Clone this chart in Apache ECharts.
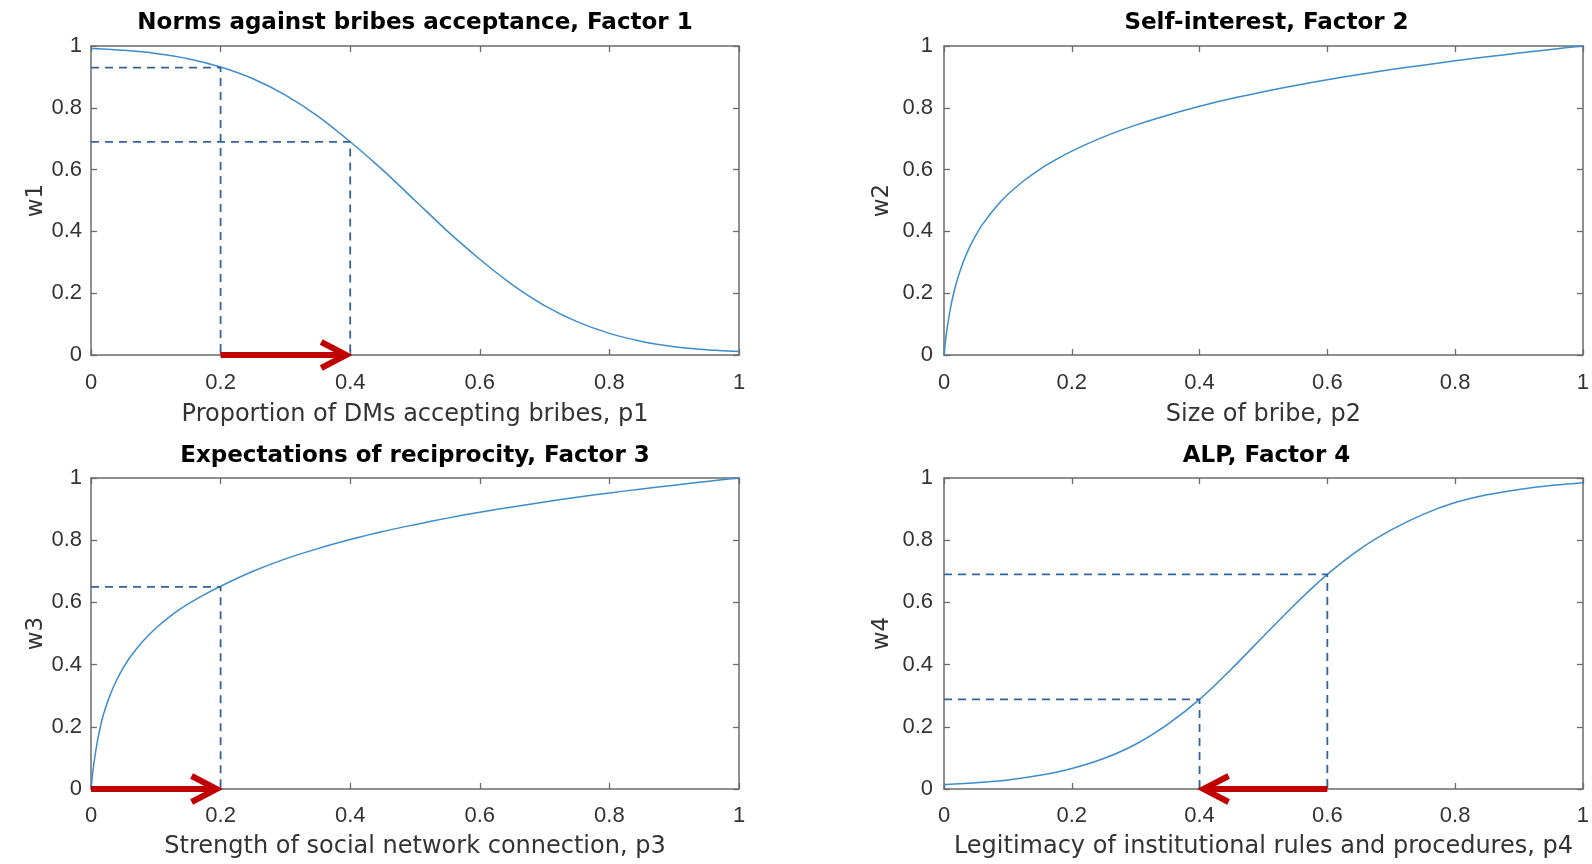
<!DOCTYPE html>
<html>
<head>
<meta charset="utf-8">
<script src="https://cdn.jsdelivr.net/npm/echarts@6/dist/echarts.min.js"></script>
<style>
html,body{margin:0;padding:0;background:#fff;}
#chart{width:1592px;height:864px;}
</style>
</head>
<body>
<div id="chart"></div>
<script>
// ---------- data ----------
const titles = [
  'Norms against bribes acceptance, Factor 1',
  'Self-interest, Factor 2',
  'Expectations of reciprocity, Factor 3',
  'ALP, Factor 4'
];
const xNames = [
  'Proportion of DMs accepting bribes, p1',
  'Size of bribe, p2',
  'Strength of social network connection, p3',
  'Legitimacy of institutional rules and procedures, p4'
];
const yNames = ['w1', 'w2', 'w3', 'w4'];

const p1 = [0,0.05,0.1,0.15,0.2,0.25,0.3,0.35,0.4,0.45,0.5,0.55,0.6,0.65,0.7,0.75,0.8,0.85,0.9,0.95,1];
const w1 = [0.992,0.986,0.976,0.959,0.932,0.894,0.841,0.773,0.69,0.599,0.5,0.401,0.31,0.228,0.16,0.108,0.07,0.044,0.027,0.017,0.011];

const p2 = [0,0.0025,0.005,0.01,0.015,0.02,0.03,0.04,0.05,0.06,0.08,0.1,0.125,0.15,0.175,0.2,0.25,0.3,0.35,0.4,0.45,0.5,0.55,0.6,0.65,0.7,0.75,0.8,0.85,0.9,0.95,1];
const w2 = [0,0.048,0.088,0.15,0.199,0.238,0.3,0.349,0.388,0.422,0.476,0.52,0.564,0.601,0.632,0.66,0.706,0.744,0.776,0.805,0.83,0.852,0.872,0.891,0.908,0.924,0.938,0.952,0.965,0.977,0.989,1];

const p3 = [0,0.0025,0.005,0.01,0.015,0.02,0.03,0.04,0.05,0.06,0.08,0.1,0.125,0.15,0.175,0.2,0.25,0.3,0.35,0.4,0.45,0.5,0.55,0.6,0.65,0.7,0.75,0.8,0.85,0.9,0.95,1];
const w3 = [0,0.05,0.09,0.155,0.205,0.245,0.305,0.352,0.39,0.423,0.475,0.517,0.56,0.595,0.625,0.652,0.7,0.74,0.773,0.802,0.828,0.85,0.871,0.89,0.907,0.923,0.938,0.952,0.965,0.977,0.989,1];

const p4 = [0,0.05,0.1,0.15,0.2,0.25,0.3,0.35,0.4,0.45,0.5,0.55,0.6,0.65,0.7,0.75,0.8,0.85,0.9,0.95,1];
const w4 = [0.014,0.02,0.029,0.044,0.066,0.098,0.144,0.208,0.288,0.386,0.491,0.595,0.69,0.77,0.833,0.883,0.921,0.946,0.963,0.976,0.985];

// dashed guide lines (polylines through data points)
const guides1 = [[[0,0.93],[0.2,0.93],[0.2,0]], [[0,0.69],[0.4,0.69],[0.4,0]]];
const guides2 = [];
const guides3 = [[[0,0.65],[0.2,0.65],[0.2,0]]];
const guides4 = [[[0,0.288],[0.4,0.288],[0.4,0]], [[0,0.69],[0.6,0.69],[0.6,0]]];

// red arrows: [from, to, y]
const arrows1 = [[0.2,0.4,0]];
const arrows2 = [];
const arrows3 = [[0,0.2,0]];
const arrows4 = [[0.6,0.4,0]];

const xTicks = [0,0.2,0.4,0.6,0.8,1];
const yTicks = [0,0.2,0.4,0.6,0.8,1];

// ---------- layout / style ----------
const FONT = 'DejaVu Sans';
const TICK_FONT = 'Liberation Sans';
const AXIS_C = '#6b6b6b';
const TXT_C = '#333333';
const CURVE_C = '#3d8ccc';
const DASH_C = '#34629e';
const RED = '#c00000';

const grids = [
  {left: 91, top: 46, width: 648, height: 309},
  {left: 944, top: 46, width: 645, height: 309},
  {left: 91, top: 478, width: 648, height: 311},
  {left: 944, top: 478, width: 645, height: 311}
];
const titleTops = [12, 12, 445, 445];
const xLabelMargin = [17, 17, 16, 16];
const yLabelMargin = [9, 11, 9, 11];
const yNameGap = [43, 50, 43, 50];
const xNameGap = [48, 48, 46, 46];

const curves = [[p1,w1],[p2,w2],[p3,w3],[p4,w4]];
const guides = [guides1, guides2, guides3, guides4];
const arrows = [arrows1, arrows2, arrows3, arrows4];

const xAxes = [], yAxes = [], series = [], titleOpts = [];
const tickMin = xTicks[0], tickMax = xTicks[xTicks.length-1], tickStep = xTicks[1]-xTicks[0];
const yMin = yTicks[0], yMax = yTicks[yTicks.length-1], yStep = yTicks[1]-yTicks[0];

grids.forEach((g, i) => {
  titleOpts.push({
    text: titles[i],
    left: g.left + g.width/2,
    top: titleTops[i],
    textAlign: 'center',
    padding: 0,
    textStyle: {fontFamily: FONT, fontWeight: 'bold', fontSize: 23, color: '#000'}
  });
});

grids.forEach((g, i) => {
  const common = {
    type: 'value', gridIndex: i,
    axisLine: {show: true, onZero: false, lineStyle: {color: AXIS_C, width: 1.5}},
    axisTick: {show: true, inside: true, length: 6, lineStyle: {color: AXIS_C, width: 1.3}},
    splitLine: {show: false}
  };
  xAxes.push(Object.assign({}, common, {
    position: 'bottom', min: tickMin, max: tickMax, interval: tickStep,
    name: xNames[i], nameLocation: 'middle', nameGap: xNameGap[i],
    nameTextStyle: {fontFamily: FONT, fontSize: 24, color: TXT_C},
    axisLabel: {fontFamily: TICK_FONT, fontSize: 22, color: TXT_C, margin: xLabelMargin[i]}
  }));
  yAxes.push(Object.assign({}, common, {
    position: 'left', min: yMin, max: yMax, interval: yStep,
    name: yNames[i], nameLocation: 'middle', nameGap: yNameGap[i],
    nameTextStyle: {fontFamily: FONT, fontSize: 23, color: TXT_C},
    axisLabel: {fontFamily: TICK_FONT, fontSize: 22, color: TXT_C, margin: yLabelMargin[i]}
  }));
});
grids.forEach((g, i) => {
  const common = {
    type: 'value', gridIndex: i,
    axisLine: {show: true, onZero: false, lineStyle: {color: AXIS_C, width: 1.5}},
    axisTick: {show: true, inside: true, length: 6, lineStyle: {color: AXIS_C, width: 1.3}},
    axisLabel: {show: false},
    splitLine: {show: false}
  };
  xAxes.push(Object.assign({}, common, {position: 'top', min: tickMin, max: tickMax, interval: tickStep}));
  yAxes.push(Object.assign({}, common, {position: 'right', min: yMin, max: yMax, interval: yStep}));
});

function renderArrow(params, api) {
  const a = api.coord([api.value(0), api.value(2)]);
  const b = api.coord([api.value(1), api.value(2)]);
  const dir = b[0] >= a[0] ? 1 : -1;
  const L = 25, H = 13;
  const tipX = b[0] - dir * 4;
  return {
    type: 'group',
    children: [
      {type: 'line', shape: {x1: a[0], y1: a[1], x2: tipX, y2: b[1]},
       style: {stroke: RED, lineWidth: 6, lineCap: 'butt'}},
      {type: 'polyline', shape: {points: [[tipX - dir*L, b[1]-H], [tipX, b[1]], [tipX - dir*L, b[1]+H]]},
       style: {stroke: RED, lineWidth: 6, fill: null, lineJoin: 'miter', lineCap: 'butt'}}
    ]
  };
}

curves.forEach((c, i) => {
  const [px, wy] = c;
  series.push({
    type: 'line', xAxisIndex: i, yAxisIndex: i,
    data: px.map((p, k) => [p, wy[k]]),
    showSymbol: false, symbol: 'none', smooth: 0.25, clip: false,
    lineStyle: {color: CURVE_C, width: 1.5}, z: 3, silent: true
  });
  guides[i].forEach(gd => {
    series.push({
      type: 'line', xAxisIndex: i, yAxisIndex: i,
      data: gd, symbol: 'none', showSymbol: false, clip: false,
      lineStyle: {color: DASH_C, width: 1.8, type: [8, 6]}, z: 4, silent: true
    });
  });
  if (arrows[i].length) {
    series.push({
      type: 'custom', xAxisIndex: i, yAxisIndex: i,
      data: arrows[i], renderItem: renderArrow,
      encode: {x: [0, 1], y: 2}, z: 10, silent: true, clip: false
    });
  }
});

const chart = echarts.init(document.getElementById('chart'), null, {renderer: 'canvas'});
chart.setOption({
  backgroundColor: '#ffffff',
  animation: false,
  title: titleOpts,
  grid: grids.map(g => Object.assign({containLabel: false}, g)),
  xAxis: xAxes,
  yAxis: yAxes,
  series: series
});
</script>
</body>
</html>
